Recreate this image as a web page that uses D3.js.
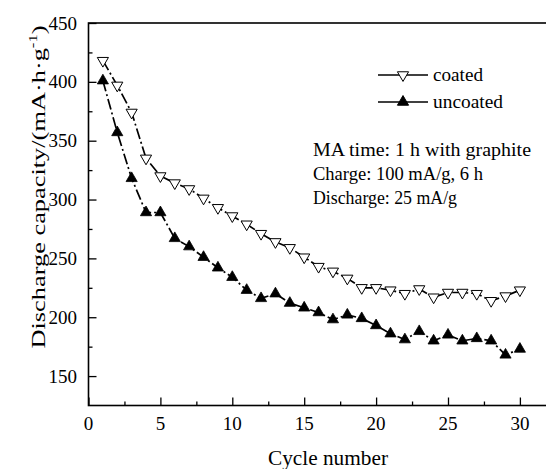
<!DOCTYPE html>
<html>
<head>
<meta charset="utf-8">
<script src="https://cdn.jsdelivr.net/npm/d3@7"></script>
<style>
  html, body { margin: 0; padding: 0; background: #fff; }
  svg { display: block; }
  text { font-family: "Liberation Serif", "DejaVu Serif", serif; fill: #000; }
</style>
</head>
<body>
<svg id="chart" width="546" height="469"></svg>
<script>
// ---- data ----
const cycles = [1,2,3,4,5,6,7,8,9,10,11,12,13,14,15,16,17,18,19,20,21,22,23,24,25,26,27,28,29,30];
const coated = [418,397,374,335,320,314,309,301,293,286,279,271,264,259,251,243,239,233,225,225,223,220,224,217,221,221,220,214,218,223];
const uncoated = [401,357,318,289,289,267,260,251,242,234,223,216,220,212,208,204,198,202,199,193,186,181,188,180,185,180,182,180,168,173];
const xTicks = [0,5,10,15,20,25,30];
const xMinorTicks = [2.5,7.5,12.5,17.5,22.5,27.5];
const yTicks = [150,200,250,300,350,400,450];
const yMinorTicks = [175,225,275,325,375,425];
const seriesNames = ["coated","uncoated"];
const noteLines = ["MA time: 1 h with graphite","Charge: 100 mA/g, 6 h","Discharge: 25 mA/g"];

// ---- layout ----
const svg = d3.select("#chart");
const x = d3.scaleLinear().domain([0, 32]).range([88.5, 88.5 + 32 * 14.38]);
const y = d3.scaleLinear().domain([125, 450]).range([405.5, 23]);

// frame
svg.append("rect")
  .attr("x", x(0)).attr("y", y(450))
  .attr("width", x(32) - x(0)).attr("height", y(125) - y(450))
  .attr("fill", "none").attr("stroke", "#000").attr("stroke-width", 1.6);

// x axis
const gx = svg.append("g").attr("transform", `translate(0,${y(125)})`);
gx.call(d3.axisTop(x).tickValues(xTicks).tickSize(8).tickFormat(""))
  .call(g => g.select(".domain").remove())
  .call(g => g.selectAll(".tick line").attr("stroke-width", 1.3));
gx.append("g").call(d3.axisTop(x).tickValues(xMinorTicks).tickSize(4).tickFormat(""))
  .call(g => g.select(".domain").remove())
  .call(g => g.selectAll(".tick line").attr("stroke-width", 1.3));
svg.append("g").selectAll("text").data(xTicks).join("text")
  .attr("x", d => x(d)).attr("y", 430)
  .attr("text-anchor", "middle").attr("font-size", 19)
  .text(d => d);

// y axis
const gy = svg.append("g").attr("transform", `translate(${x(0)},0)`);
gy.call(d3.axisRight(y).tickValues(yTicks).tickSize(8).tickFormat(""))
  .call(g => g.select(".domain").remove())
  .call(g => g.selectAll(".tick line").attr("stroke-width", 1.3));
gy.append("g").call(d3.axisRight(y).tickValues(yMinorTicks).tickSize(4).tickFormat(""))
  .call(g => g.select(".domain").remove())
  .call(g => g.selectAll(".tick line").attr("stroke-width", 1.3));
svg.append("g").selectAll("text").data(yTicks).join("text")
  .attr("x", 77).attr("y", d => y(d) + 6.5)
  .attr("text-anchor", "end").attr("font-size", 19)
  .text(d => d);

// axis titles
svg.append("text")
  .attr("x", 328).attr("y", 465)
  .attr("text-anchor", "middle").attr("font-size", 20)
  .attr("textLength", 120).attr("lengthAdjust", "spacingAndGlyphs")
  .text("Cycle number");

const yl = svg.append("text")
  .attr("transform", "translate(45,187) rotate(-90)")
  .attr("text-anchor", "middle").attr("font-size", 19)
  .attr("textLength", 323).attr("lengthAdjust", "spacingAndGlyphs");
yl.append("tspan").text("Discharge capacity/(mA·h·g");
yl.append("tspan").attr("font-size", 12).attr("dy", -8).text("-1");
yl.append("tspan").attr("dy", 8).text(")");

// lines
const line = d3.line().x(d => x(d[0])).y(d => y(d[1]));
const dataC = cycles.map((c, i) => [c, coated[i]]);
const dataU = cycles.map((c, i) => [c, uncoated[i]]);
[dataC, dataU].forEach(data => {
  svg.append("path").datum(data).attr("d", line)
    .attr("fill", "none").attr("stroke", "#000").attr("stroke-width", 1.7)
    .attr("stroke-dasharray", "11,3,2,3");
});

const tri = d3.symbol().type(d3.symbolTriangle).size(54);
svg.append("g").selectAll("path").data(dataC).join("path")
  .attr("d", tri)
  .attr("transform", d => `translate(${x(d[0])},${y(d[1])}) rotate(180)`)
  .attr("fill", "#fff").attr("stroke", "#000").attr("stroke-width", 1);
svg.append("g").selectAll("path").data(dataU).join("path")
  .attr("d", tri)
  .attr("transform", d => `translate(${x(d[0])},${y(d[1])})`)
  .attr("fill", "#000").attr("stroke", "#000").attr("stroke-width", 0.8);

// legend
const legY = [75, 102];
seriesNames.forEach((name, i) => {
  const g = svg.append("g");
  g.append("line").attr("x1", 378).attr("x2", 428).attr("y1", legY[i]).attr("y2", legY[i])
    .attr("stroke", "#000").attr("stroke-width", 1.7);
  g.append("path").attr("d", tri)
    .attr("transform", `translate(403,${legY[i]})` + (i === 0 ? " rotate(180)" : ""))
    .attr("fill", i === 0 ? "#fff" : "#000").attr("stroke", "#000").attr("stroke-width", 1);
  g.append("text").attr("x", 433).attr("y", legY[i] + 6)
    .attr("font-size", 19)
    .attr("textLength", i === 0 ? 50 : 70).attr("lengthAdjust", "spacingAndGlyphs")
    .text(name);
});

// annotation
const noteLens = [218, 170, 144];
noteLines.forEach((t, i) => {
  svg.append("text").attr("x", 313).attr("y", 156 + i * 24)
    .attr("font-size", 18.5)
    .attr("textLength", noteLens[i]).attr("lengthAdjust", "spacingAndGlyphs")
    .text(t);
});
</script>
</body>
</html>
